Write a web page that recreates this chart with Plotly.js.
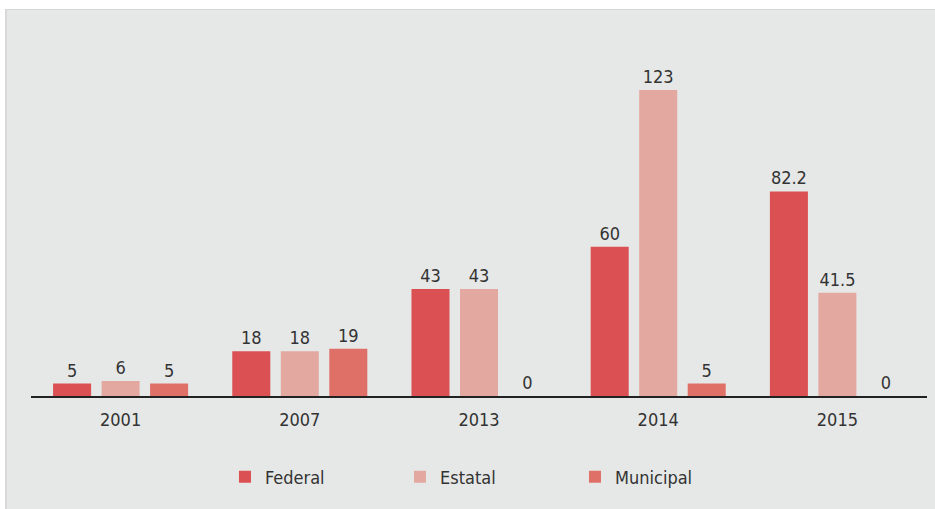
<!DOCTYPE html>
<html>
<head>
<meta charset="utf-8">
<script src="https://cdn.plot.ly/plotly-3.0.1.min.js"></script>
<style>
html,body{margin:0;padding:0;background:#ffffff;}
#wrap{position:absolute;left:5px;top:9px;border-top:1px solid #d6d6d6;border-left:2px solid #d9d9d9;}
#chart{width:928px;height:499px;}
</style>
</head>
<body>
<div id="wrap"><div id="chart"></div></div>
<script>
var years = ['2001', '2007', '2013', '2014', '2015'];
var federal = [5, 18, 43, 60, 82.2];
var estatal = [6, 18, 43, 123, 41.5];
var municipal = [5, 19, 0, 5, 0];
var seriesNames = ['Federal', 'Estatal', 'Municipal'];
var colors = ['#db5053', '#e3a9a1', '#df7068'];

var fontFam = '"DejaVu Sans Condensed", "DejaVu Sans", sans-serif';
var allSeries = [federal, estatal, municipal];
var traces = allSeries.map(function (vals, i) {
  return {
    type: 'bar',
    name: seriesNames[i],
    x: years,
    y: vals,
    marker: {color: colors[i]},
    text: vals.map(function (v) { return String(v); }),
    textposition: 'outside',
    textfont: {family: fontFam, size: 18, color: '#333333'},
    cliponaxis: false,
    hoverinfo: 'none'
  };
});

var layout = {
  width: 928,
  height: 499,
  margin: {l: 24, r: 8, t: 62, b: 113},
  paper_bgcolor: '#e6e8e7',
  plot_bgcolor: '#e6e8e7',
  barmode: 'group',
  bargap: 0.188,
  bargroupgap: 0.216,
  font: {family: fontFam, size: 18, color: '#333333'},
  xaxis: {
    type: 'category',
    showgrid: false,
    zeroline: false,
    showline: true,
    linecolor: '#222222',
    linewidth: 1.5,
    ticks: 'outside',
    ticklen: 7,
    tickcolor: 'rgba(0,0,0,0)',
    tickfont: {family: fontFam, size: 18, color: '#333333'}
  },
  yaxis: {
    range: [0, 130.2],
    visible: false,
    showgrid: false,
    zeroline: false
  },
  showlegend: true,
  legend: {
    orientation: 'h',
    x: 0.2165,
    xanchor: 'left',
    y: -0.25,
    yanchor: 'middle',
    entrywidth: 130,
    entrywidthmode: 'pixels',
    bgcolor: 'rgba(0,0,0,0)',
    font: {family: fontFam, size: 18, color: '#333333'}
  }
};

Plotly.newPlot('chart', traces, layout, {displayModeBar: false, staticPlot: true});
</script>
</body>
</html>
